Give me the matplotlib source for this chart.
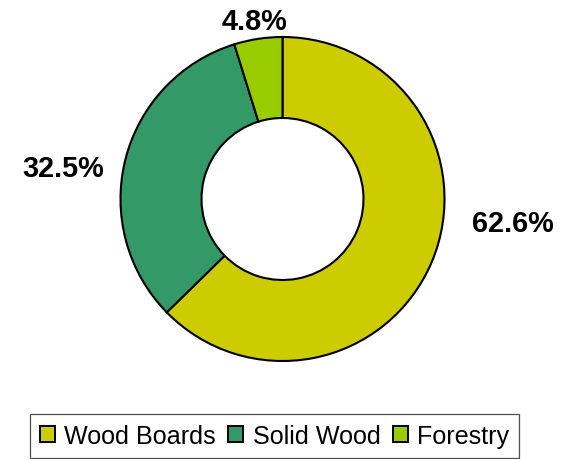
import matplotlib
matplotlib.use("Agg")
import matplotlib.pyplot as plt
from matplotlib.patches import Patch

categories = ["Wood Boards", "Solid Wood", "Forestry"]
shares = [62.6, 32.5, 4.8]
colors = ["#CCCC00", "#339966", "#99CC00"]

plt.rcParams["font.family"] = ["Liberation Sans", "DejaVu Sans"]

W, H = 561, 460
fig = plt.figure(figsize=(W / 100, H / 100), dpi=100)

# donut centred at (282.5, 200) px with outer radius 162 px
cx, cy, r = 282.5, 200, 162
ax = fig.add_axes([(cx - r) / W, (H - cy - r) / H, 2 * r / W, 2 * r / H])
ax.pie(shares, colors=colors, startangle=90, counterclock=False,
       radius=1.0,
       wedgeprops=dict(width=0.5, edgecolor="black", linewidth=1.5))
ax.set_xlim(-1, 1)
ax.set_ylim(-1, 1)
ax.set_aspect("equal")
ax.axis("off")

# percentage labels placed around the ring
label_pos = [(1.42, -0.15), (-1.352, 0.191), (-0.170, 1.098)]
for val, (x, y) in zip(shares, label_pos):
    ax.text(x, y, f"{val:.1f}%", ha="center", va="center",
            fontsize=20.8, fontweight="bold", color="black")

handles = [Patch(facecolor=c, edgecolor="black", linewidth=1.4) for c in colors]
leg = fig.legend(handles, categories, loc="upper left",
                 bbox_to_anchor=(30 / W, 1 - 415 / H),
                 ncol=3, fontsize=18.1, frameon=True, fancybox=False,
                 handlelength=0.6, handleheight=0.6, handletextpad=0.36,
                 columnspacing=0.5, borderpad=0.4, borderaxespad=0)
leg.get_frame().set_edgecolor("#222222")
leg.get_frame().set_linewidth(0.9)

fig.savefig("out.png", dpi=100, facecolor="white")
